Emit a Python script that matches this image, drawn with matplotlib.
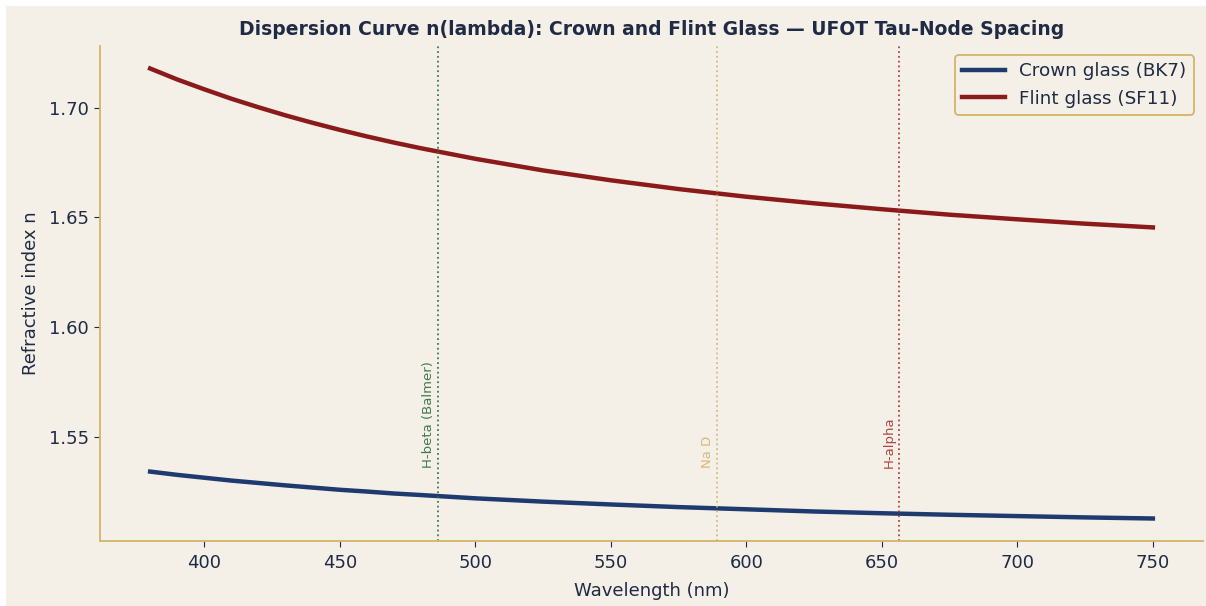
import numpy as np
import matplotlib
matplotlib.use("Agg")
import matplotlib.pyplot as plt
from matplotlib.patches import Rectangle

# Wavelengths (nm) and refractive indices
wavelength = [380, 390, 400, 410, 420, 430, 440, 450, 460, 470, 480, 500,
              525, 550, 575, 600, 625, 650, 675, 700, 725, 750]
n_crown = [1.5340, 1.5325, 1.5312, 1.5299, 1.5288, 1.5277, 1.5267, 1.5257, 1.5249, 1.5240,
           1.5233, 1.5218, 1.5203, 1.5190, 1.5178, 1.5168, 1.5158, 1.5150, 1.5143, 1.5137,
           1.5131, 1.5126]
n_flint = [1.7179, 1.7129, 1.7084, 1.7041, 1.7002, 1.6965, 1.6931, 1.6899, 1.6869, 1.6841,
           1.6815, 1.6767, 1.6714, 1.6669, 1.6629, 1.6594, 1.6564, 1.6537, 1.6512, 1.6491,
           1.6471, 1.6454]

# Spectral reference lines
line_names = ["H-beta (Balmer)", "Na D", "H-alpha"]
line_wl = [486.1, 589.0, 656.3]
line_colors = ["#2e6b3e", "#d4b46a", "#a83232"]

bg = "#f4f0e8"
ink = "#1f2a44"
gold = "#d4b46a"

fig = plt.figure(figsize=(12.06, 6.06), dpi=100, facecolor=bg)
# thin white strip on the top and left edges, as in the reference image
fig.patches.append(Rectangle((0, 600 / 606), 1, 6 / 606, transform=fig.transFigure,
                             facecolor="white", edgecolor="none", zorder=10))
fig.patches.append(Rectangle((0, 0), 6 / 1206, 1, transform=fig.transFigure,
                             facecolor="white", edgecolor="none", zorder=10))
ax = fig.add_axes([100 / 1206, 65 / 606, 1103 / 1206, 495 / 606])
ax.set_facecolor(bg)

ax.plot(wavelength, n_crown, color="#1e3a6e", lw=3.2, label="Crown glass (BK7)")
ax.plot(wavelength, n_flint, color="#8b1a1a", lw=3.2, label="Flint glass (SF11)")

for name, wl, c in zip(line_names, line_wl, line_colors):
    ax.axvline(wl, color=c, ls=":", lw=1.3, alpha=0.9)
    ax.text(wl - 1, 1.5355, name, rotation=90, color=c, fontsize=9.5,
            ha="right", va="bottom", alpha=0.9)

ax.set_title("Dispersion Curve n(lambda): Crown and Flint Glass \u2014 UFOT Tau-Node Spacing",
             fontsize=13.5, fontweight="bold", color=ink, pad=8)
ax.set_xlabel("Wavelength (nm)", fontsize=13, color=ink, labelpad=7)
ax.set_ylabel("Refractive index n", fontsize=13, color=ink, labelpad=6)

for s in ["top", "right"]:
    ax.spines[s].set_visible(False)
for s in ["left", "bottom"]:
    ax.spines[s].set_color(gold)
    ax.spines[s].set_linewidth(1.3)
ax.tick_params(colors=ink, labelsize=13, length=4.5, pad=5)
ax.tick_params(axis="y", pad=3.5)
ax.set_yticks([1.55, 1.60, 1.65, 1.70])
ax.set_yticklabels(["1.55", "1.60", "1.65", "1.70"])

leg = ax.legend(loc="upper right", fontsize=13.2, facecolor=bg, edgecolor=gold,
                framealpha=1, labelcolor=ink, handlelength=2.3)
leg.get_frame().set_linewidth(1.3)

fig.savefig("out.png", dpi=100, facecolor=bg)
